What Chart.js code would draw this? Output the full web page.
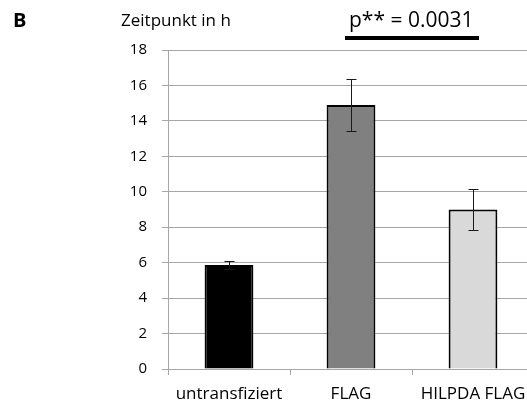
<!DOCTYPE html>
<html>
<head>
<meta charset="utf-8">
<script src="https://cdn.jsdelivr.net/npm/chart.js@4/dist/chart.umd.min.js"></script>
<style>
  html, body { margin: 0; padding: 0; background: #fff; overflow: hidden; }
  #wrap { width: 560px; height: 406px; }
</style>
</head>
<body>
<div id="wrap"><canvas id="c" width="560" height="406"></canvas></div>
<script>
// Mean time (h) per condition with standard deviation
const categories = ['untransfiziert', 'FLAG', 'HILPDA FLAG'];
const meanHours = [5.87, 14.9, 9.0];
const errorHours = [0.22, 1.47, 1.13];
const barColors = ['#000000', '#808080', '#d9d9d9'];
const yTicks = [0, 2, 4, 6, 8, 10, 12, 14, 16, 18];
const panelLabel = 'B';
const axisTitle = 'Zeitpunkt in h';
const pValueLabel = 'p** = 0.0031';

const FONT = "'Open Sans', 'DejaVu Sans', sans-serif";

// Draws the +/- error whiskers on each bar
const errorBars = {
  id: 'errorBars',
  afterDatasetsDraw(chart) {
    const ctx = chart.ctx;
    const meta = chart.getDatasetMeta(0);
    const y = chart.scales.y;
    ctx.save();
    ctx.strokeStyle = '#1a1a1a';
    ctx.lineWidth = 1;
    meta.data.forEach((bar, i) => {
      const x = Math.round(bar.x) + 0.5;
      const top = Math.round(y.getPixelForValue(meanHours[i] + errorHours[i])) + 0.5;
      const bot = Math.round(y.getPixelForValue(meanHours[i] - errorHours[i])) + 0.5;
      const cap = 5;
      ctx.beginPath();
      ctx.moveTo(x, top); ctx.lineTo(x, bot);
      ctx.moveTo(x - cap, top); ctx.lineTo(x + cap, top);
      ctx.moveTo(x - cap, bot); ctx.lineTo(x + cap, bot);
      ctx.stroke();
    });
    ctx.restore();
  }
};

// Panel letter, axis caption and significance annotation
const annotations = {
  id: 'annotations',
  afterDraw(chart) {
    const ctx = chart.ctx;
    ctx.save();
    ctx.fillStyle = '#000';
    ctx.textBaseline = 'alphabetic';
    ctx.textAlign = 'left';
    ctx.font = 'bold 20px ' + FONT;
    ctx.fillText(panelLabel, 13, 27);
    ctx.font = '17px ' + FONT;
    ctx.fillText(axisTitle, 121, 26);
    ctx.font = '21px ' + FONT;
    ctx.fillText(pValueLabel, 349, 27);
    ctx.fillRect(345, 36, 134, 4);
    ctx.restore();
  }
};

new Chart(document.getElementById('c'), {
  type: 'bar',
  data: {
    labels: categories,
    datasets: [{
      data: meanHours,
      backgroundColor: barColors,
      borderColor: '#000',
      borderWidth: 2,
      barPercentage: 0.4,
      categoryPercentage: 1.0
    }]
  },
  options: {
    responsive: false,
    animation: false,
    devicePixelRatio: 1,
    layout: { padding: { top: 50, right: 26, bottom: 0, left: 0 } },
    plugins: { legend: { display: false }, tooltip: { enabled: false } },
    scales: {
      x: {
        afterFit(s) { s.height = 37; },
        grid: { drawOnChartArea: false, drawTicks: true, tickLength: 6, color: '#a6a6a6', offset: true },
        border: { color: '#a6a6a6', width: 1 },
        ticks: { color: '#000', font: { family: FONT, size: 17 }, padding: 9 }
      },
      y: {
        min: 0, max: 18,
        afterFit(s) { s.width = 168; },
        afterBuildTicks(s) { s.ticks = yTicks.map(v => ({ value: v })); },
        grid: { color: '#a6a6a6', lineWidth: 1, tickLength: 6, drawTicks: true },
        border: { color: '#a6a6a6', width: 1 },
        ticks: { color: '#000', font: { family: FONT, size: 15 }, padding: 15 }
      }
    }
  },
  plugins: [errorBars, annotations]
});
</script>
</body>
</html>
